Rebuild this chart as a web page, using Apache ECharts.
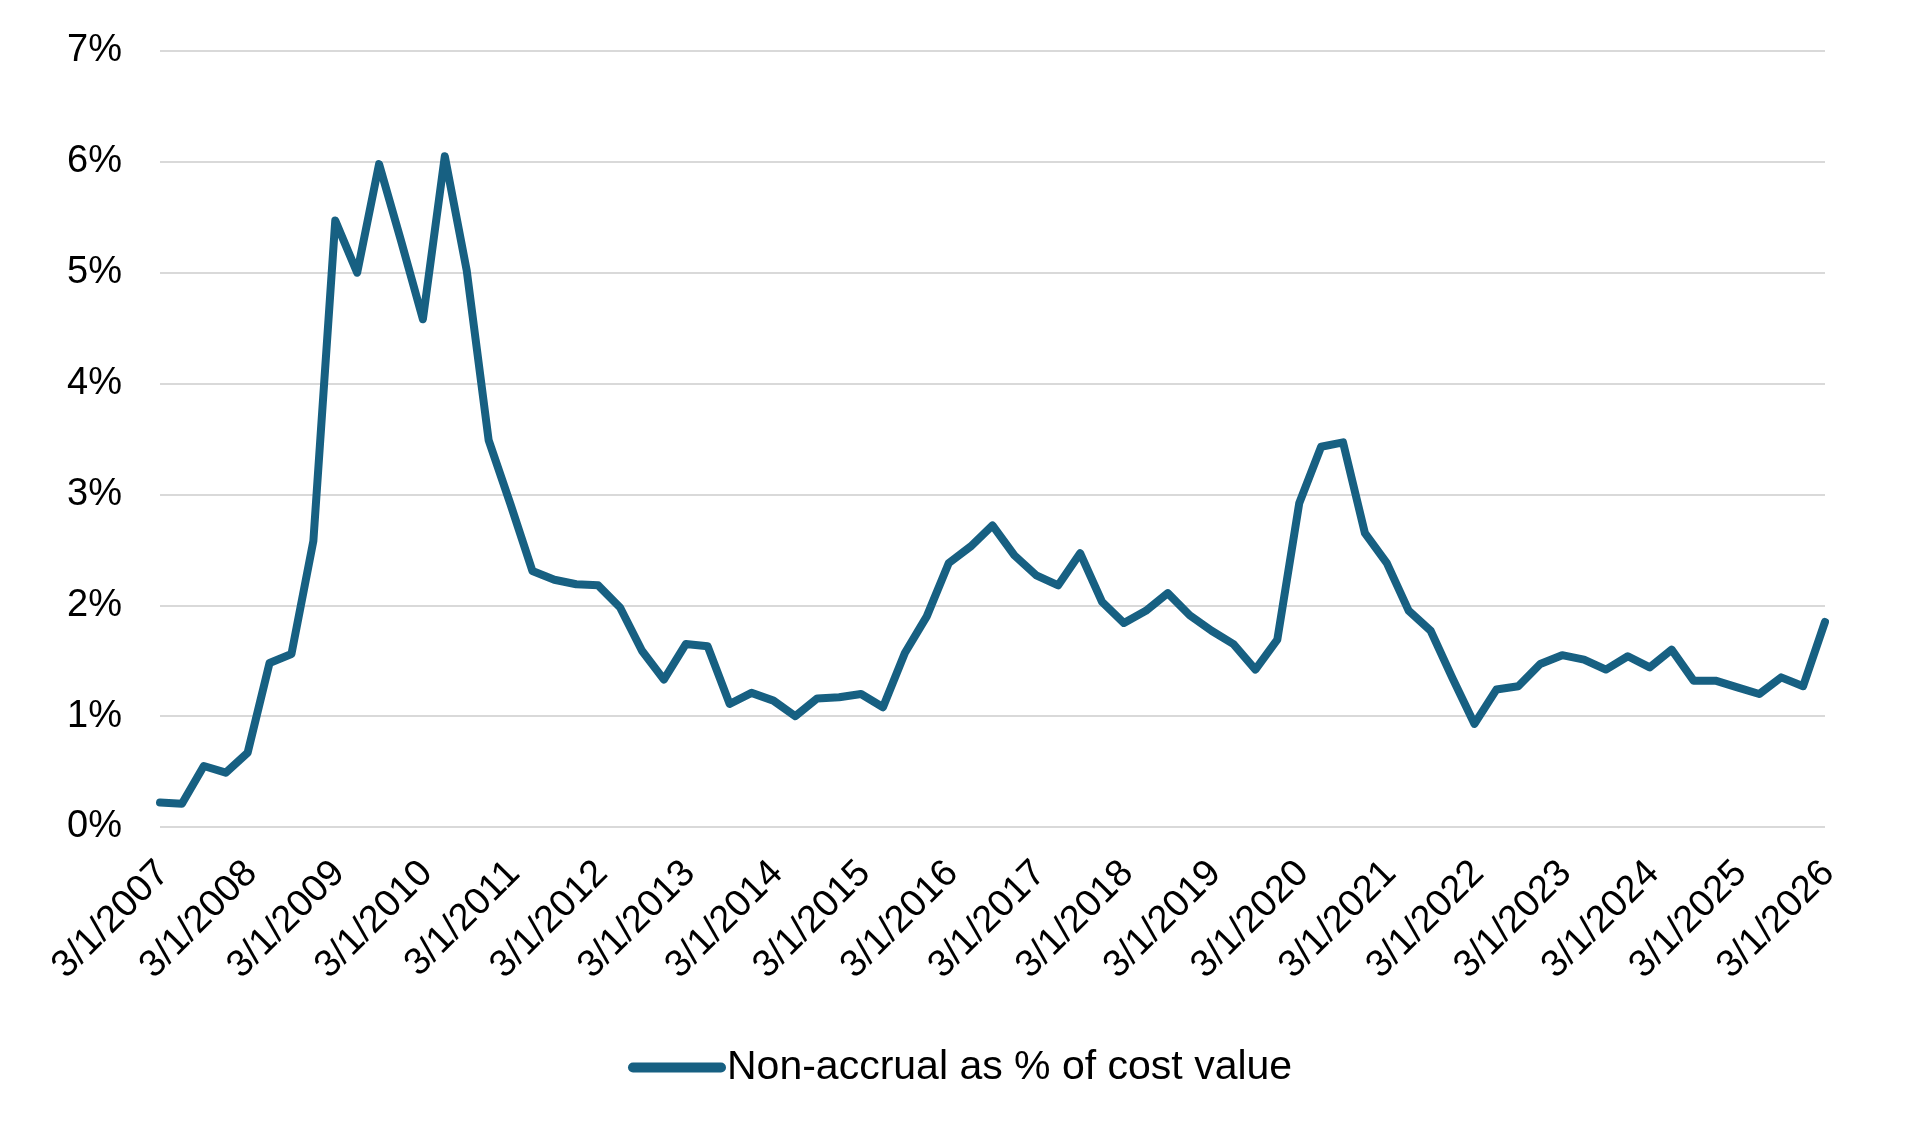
<!DOCTYPE html>
<html lang="en">

<head>
  <meta charset="UTF-8">
  <title>Non-accrual as % of cost value</title>
  <script src="https://cdn.jsdelivr.net/npm/echarts@6/dist/echarts.min.js"></script>
  <style>
    * {
      margin: 0;
      padding: 0;
    }

    body {
      background: #fff;
    }

    #chart {
      width: 1905px;
      height: 1129px;
    }
  </style>
</head>

<body>
  <div id="chart"></div>
  <script>
    // quarterly dates, 3/1/2007 .. 3/1/2026
    const quarters = [
      '3/1/2007', '6/1/2007', '9/1/2007', '12/1/2007',
      '3/1/2008', '6/1/2008', '9/1/2008', '12/1/2008',
      '3/1/2009', '6/1/2009', '9/1/2009', '12/1/2009',
      '3/1/2010', '6/1/2010', '9/1/2010', '12/1/2010',
      '3/1/2011', '6/1/2011', '9/1/2011', '12/1/2011',
      '3/1/2012', '6/1/2012', '9/1/2012', '12/1/2012',
      '3/1/2013', '6/1/2013', '9/1/2013', '12/1/2013',
      '3/1/2014', '6/1/2014', '9/1/2014', '12/1/2014',
      '3/1/2015', '6/1/2015', '9/1/2015', '12/1/2015',
      '3/1/2016', '6/1/2016', '9/1/2016', '12/1/2016',
      '3/1/2017', '6/1/2017', '9/1/2017', '12/1/2017',
      '3/1/2018', '6/1/2018', '9/1/2018', '12/1/2018',
      '3/1/2019', '6/1/2019', '9/1/2019', '12/1/2019',
      '3/1/2020', '6/1/2020', '9/1/2020', '12/1/2020',
      '3/1/2021', '6/1/2021', '9/1/2021', '12/1/2021',
      '3/1/2022', '6/1/2022', '9/1/2022', '12/1/2022',
      '3/1/2023', '6/1/2023', '9/1/2023', '12/1/2023',
      '3/1/2024', '6/1/2024', '9/1/2024', '12/1/2024',
      '3/1/2025', '6/1/2025', '9/1/2025', '12/1/2025',
      '3/1/2026'
    ];

    // non-accrual as % of cost value
    const nonAccrualPct = [
      0.22, 0.21, 0.55, 0.49,
      0.67, 1.48, 1.56, 2.58,
      5.47, 5.00, 5.98, 5.29,
      4.58, 6.05, 5.02, 3.49,
      2.91, 2.31, 2.23, 2.19,
      2.18, 1.98, 1.59, 1.33,
      1.65, 1.63, 1.11, 1.21,
      1.14, 1.00, 1.16, 1.17,
      1.20, 1.08, 1.57, 1.90,
      2.38, 2.53, 2.72, 2.45,
      2.27, 2.18, 2.47, 2.03,
      1.84, 1.95, 2.11, 1.91,
      1.77, 1.65, 1.42, 1.69,
      2.92, 3.43, 3.47, 2.65,
      2.38, 1.95, 1.77, 1.34,
      0.93, 1.24, 1.27, 1.47,
      1.55, 1.51, 1.42, 1.54,
      1.44, 1.60, 1.32, 1.32,
      1.26, 1.20, 1.35, 1.27,
      1.85
    ];

    const seriesName = 'Non-accrual as % of cost value';
    const lineColor = '#176082';
    const fontFamily = '"Liberation Sans", Arial, sans-serif';

    const chart = echarts.init(document.getElementById('chart'));

    const option = {
      animation: false,
      textStyle: { fontFamily: fontFamily },
      grid: {
        left: 160,
        right: 80,
        top: 51,
        bottom: 302
      },
      legend: {
        data: [seriesName],
        left: 623,
        top: 1042,
        icon: 'path://M5,0 L93,0 A5,5 0 0 1 93,10 L5,10 A5,5 0 0 1 5,0 Z',
        itemWidth: 98,
        itemHeight: 10,
        itemGap: 10,
        textStyle: {
          fontSize: 41,
          color: '#000',
          padding: [0, 0, 0, -4]
        }
      },
      xAxis: {
        type: 'category',
        data: quarters,
        boundaryGap: false,
        axisLine: { show: false },
        axisTick: { show: false },
        axisLabel: {
          interval: 3,
          rotate: 45,
          margin: 44,
          fontSize: 38,
          color: '#000',
          hideOverlap: false,
          // nudge the rotated text a little to the right, as in the original
          padding: [8, -5, 0, 0]
        }
      },
      yAxis: {
        type: 'value',
        min: 0,
        max: 7,
        interval: 1,
        axisLine: { show: false },
        axisTick: { show: false },
        axisLabel: {
          formatter: '{value}%',
          fontSize: 38,
          color: '#000',
          margin: 38
        },
        splitLine: {
          lineStyle: { color: '#d9d9d9', width: 2 }
        }
      },
      series: [
        {
          name: seriesName,
          type: 'line',
          data: nonAccrualPct,
          showSymbol: false,
          smooth: false,
          color: lineColor,
          lineStyle: {
            color: lineColor,
            width: 8,
            cap: 'round',
            join: 'round'
          }
        }
      ]
    };

    chart.setOption(option);
  </script>
</body>

</html>
